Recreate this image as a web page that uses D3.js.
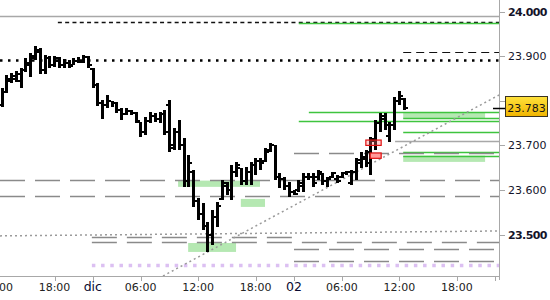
<!DOCTYPE html>
<html>
<head>
<meta charset="utf-8">
<script src="https://cdn.jsdelivr.net/npm/d3@7"></script>
<style>
  body { margin: 0; background: #fff; }
  svg { display: block; font-family: "DejaVu Sans", Verdana, sans-serif; }
</style>
</head>
<body>
<div id="chart"></div>
<script>
// 30 min bars, index 1 = 12:30 of the first day (trading time only)
let opens = [23.790,23.820,23.845,23.850,23.845,23.870,23.880,23.895,23.910,23.870,
  23.895,23.880,23.890,23.880,23.885,23.880,23.890,23.890,23.898,23.872,
  23.835,23.795,23.790,23.800,23.795,23.780,23.770,23.778,23.772,23.752,
  23.730,23.755,23.765,23.760,23.770,23.790,23.700,23.730,23.700,23.620,
  23.640,23.575,23.545,23.520,23.500,23.540,23.580,23.610,23.600,23.640,
  23.650,23.620,23.640,23.655,23.665,23.665,23.690,23.700,23.630,23.625,
  23.610,23.595,23.600,23.610,23.630,23.628,23.630,23.635,23.620,23.630,
  23.625,23.630,23.638,23.615,23.640,23.660,23.670,23.660,23.715,23.750,
  23.765,23.720,23.745,23.800,23.805];
let highs = [23.829,23.858,23.863,23.867,23.874,23.896,23.907,23.923,23.919,23.903,
  23.901,23.901,23.898,23.894,23.892,23.896,23.898,23.903,23.901,23.874,
  23.840,23.802,23.813,23.800,23.798,23.784,23.784,23.780,23.775,23.753,
  23.764,23.775,23.773,23.775,23.780,23.802,23.739,23.757,23.717,23.679,
  23.645,23.582,23.571,23.528,23.555,23.573,23.623,23.618,23.656,23.663,
  23.650,23.652,23.663,23.672,23.672,23.694,23.706,23.701,23.638,23.629,
  23.618,23.600,23.623,23.638,23.638,23.638,23.645,23.638,23.629,23.641,
  23.634,23.641,23.643,23.645,23.672,23.685,23.690,23.719,23.757,23.773,
  23.773,23.753,23.809,23.822,23.807];
let lows = [23.786,23.818,23.840,23.842,23.829,23.865,23.854,23.892,23.860,23.860,
  23.874,23.876,23.874,23.874,23.874,23.880,23.885,23.885,23.874,23.829,
  23.789,23.759,23.784,23.786,23.773,23.757,23.768,23.768,23.750,23.719,
  23.724,23.750,23.753,23.750,23.724,23.685,23.690,23.690,23.607,23.607,
  23.562,23.533,23.511,23.461,23.477,23.517,23.578,23.589,23.578,23.629,
  23.611,23.611,23.611,23.634,23.645,23.663,23.685,23.623,23.605,23.600,
  23.585,23.589,23.596,23.596,23.623,23.607,23.623,23.611,23.607,23.627,
  23.616,23.627,23.634,23.611,23.623,23.650,23.652,23.634,23.690,23.730,
  23.735,23.708,23.735,23.791,23.780];
let closes = [23.820,23.850,23.855,23.860,23.870,23.885,23.900,23.915,23.870,23.895,
  23.880,23.895,23.880,23.885,23.878,23.890,23.888,23.898,23.880,23.835,
  23.795,23.790,23.800,23.795,23.780,23.770,23.778,23.772,23.755,23.730,
  23.755,23.765,23.760,23.770,23.730,23.695,23.730,23.700,23.620,23.660,
  23.575,23.545,23.520,23.500,23.540,23.565,23.615,23.600,23.640,23.655,
  23.620,23.640,23.655,23.665,23.660,23.685,23.700,23.630,23.625,23.610,
  23.595,23.592,23.615,23.630,23.628,23.615,23.640,23.620,23.625,23.638,
  23.620,23.638,23.640,23.640,23.668,23.675,23.685,23.710,23.750,23.760,
  23.745,23.745,23.800,23.810,23.783];

let xTickIdx = [0, 12, 20, 30, 42, 54, 62, 72, 84, 96, 104];
let xTickLabels = ["12:00", "18:00", "dic", "06:00", "12:00", "18:00", "02", "06:00", "12:00", "18:00", ""];
let dayLabels = ["dic", "02"];

let yTicks = [23.5, 23.6, 23.7, 23.8, 23.9, 24.0];
let yTickLabels = ["23.500", "23.600", "23.700", "23.800", "23.900", "24.000"];
let boldTicks = ["23.500", "24.000"];
let lastPrice = 23.783;

// horizontal levels: price, first bar, last bar, kind
let levelPrices = [23.990, 23.977, 23.975, 23.910, 23.892, 23.775, 23.761, 23.754, 23.730,
  23.710, 23.686, 23.684, 23.677, 23.623, 23.587, 23.495, 23.484, 23.468, 23.441, 23.432];
let levelFrom = [0.62, 12.7, 63.0, 84.8, 0.62, 65.1, 84.8, 63.0, 84.8,
  83.1, 84.8, 62.0, 84.8, 0.62, 0.62, 19.8, 19.8, 62.0, 62.0, 19.8];
let levelTo = [104.8, 104.8, 104.8, 104.8, 104.8, 104.8, 104.8, 104.8, 104.8,
  104.8, 104.8, 104.8, 104.8, 104.8, 104.8, 62.0, 104.8, 104.8, 104.8, 104.8];
let levelKinds = ["grey", "blackDash", "green", "blackDash2", "blackDot", "green", "green", "green", "green",
  "grey", "green", "greyDash", "green", "greyDash", "greyDash", "greyDash", "greyDash", "greyDash", "greyDash", "lilac"];

// trend lines: [bar, price] -> [bar, price]
let trendFrom = [[0.62, 23.497], [34.65, 23.407]];
let trendTo = [[104.8, 23.508], [104.8, 23.813]];

// zones: bar from, bar to, top price, bottom price
let zoneX0 = [37.8, 50.9, 39.9, 84.8, 84.8];
let zoneX1 = [54.9, 55.95, 49.9, 101.9, 101.9];
let zoneTop = [23.621, 23.580, 23.481, 23.774, 23.677];
let zoneBot = [23.607, 23.562, 23.461, 23.761, 23.663];

let boxX0 = [77.0, 77.9];
let boxX1 = [80.2, 80.2];
let boxTop = [23.712, 23.683];
let boxBot = [23.700, 23.671];

let W = 550, H = 300, plotR = 499, plotB = 276;

let x = d3.scaleLinear().domain([0.62, 104.8]).range([0, plotR]);
let y = d3.scaleLinear().domain([23.407, 24.0262]).range([plotB, 0]);

let svg = d3.select("#chart").append("svg")
    .attr("width", W)
    .attr("height", H)

let styles = {
  grey: { stroke: "#a8a8a8", width: 1.5, dash: null },
  blackDash: { stroke: "#111", width: 1.5, dash: "4,3.3" },
  blackDash2: { stroke: "#111", width: 1.2, dash: "8,5" },
  blackDot: { stroke: "#000", width: 2.5, dash: "2.5,5.5" },
  green: { stroke: "#3ec43e", width: 1.3, dash: null },
  greyDash: { stroke: "#8a8a8a", width: 1.5, dash: "25,10" },
  lilac: { stroke: "#dcc0f2", width: 3.5, dash: "3.5,5.7" }
};

let plot = svg.append("g");

// zones behind everything
plot.selectAll(".zone")
    .data(zoneX0.map((d, i) => i))
    .enter().append("rect")
    .attr("x", (i) => x(zoneX0[i]))
    .attr("y", (i) => y(zoneTop[i]))
    .attr("width", (i) => x(zoneX1[i]) - x(zoneX0[i]))
    .attr("height", (i) => y(zoneBot[i]) - y(zoneTop[i]))
    .style("fill", "#b5e8b2")

plot.selectAll(".level")
    .data(levelPrices.map((d, i) => i))
    .enter().append("line")
    .attr("x1", (i) => x(levelFrom[i]))
    .attr("x2", (i) => x(levelTo[i]))
    .attr("y1", (i) => Math.round(y(levelPrices[i])) + 0.5)
    .attr("y2", (i) => Math.round(y(levelPrices[i])) + 0.5)
    .style("stroke", (i) => styles[levelKinds[i]].stroke)
    .style("stroke-width", (i) => styles[levelKinds[i]].width)
    .style("stroke-dasharray", (i) => styles[levelKinds[i]].dash)

plot.selectAll(".trend")
    .data(trendFrom.map((d, i) => i))
    .enter().append("line")
    .attr("x1", (i) => x(trendFrom[i][0]))
    .attr("y1", (i) => y(trendFrom[i][1]))
    .attr("x2", (i) => x(trendTo[i][0]))
    .attr("y2", (i) => y(trendTo[i][1]))
    .style("stroke", "#9a9a9a")
    .style("stroke-width", 1.5)
    .style("stroke-dasharray", "2,3")

// ohlc bars
let bars = plot.selectAll(".bar")
    .data(opens.map((d, i) => i))
    .enter().append("g")
    .attr("transform", (i) => "translate(" + x(i + 1) + ",0)")
    .style("shape-rendering", "crispEdges")

bars.append("rect")
    .attr("x", -1.3)
    .attr("y", (i) => y(highs[i]))
    .attr("width", 3)
    .attr("height", (i) => Math.max(2, y(lows[i]) - y(highs[i])))
    .style("fill", "#000")
bars.append("rect")
    .attr("x", -3.3)
    .attr("y", (i) => y(opens[i]) - 1)
    .attr("width", 2.2)
    .attr("height", 2)
    .style("fill", "#000")
bars.append("rect")
    .attr("x", 1.5)
    .attr("y", (i) => y(closes[i]) - 1)
    .attr("width", 2.2)
    .attr("height", 2)
    .style("fill", "#000")

// red boxes
plot.selectAll(".box")
    .data(boxX0.map((d, i) => i))
    .enter().append("rect")
    .attr("x", (i) => x(boxX0[i]))
    .attr("y", (i) => y(boxTop[i]))
    .attr("width", (i) => x(boxX1[i]) - x(boxX0[i]))
    .attr("height", (i) => y(boxBot[i]) - y(boxTop[i]))
    .style("fill", (i) => i == 0 ? "rgba(255,120,120,0.35)" : "#ff9a9a")
    .style("stroke", "#e01010")
    .style("stroke-width", 1.2)

// axes frame
svg.append("line")
    .attr("x1", plotR + 0.5).attr("x2", plotR + 0.5)
    .attr("y1", 0).attr("y2", plotB + 4)
    .style("stroke", "#a8a8a8")
svg.append("line")
    .attr("x1", 0).attr("x2", plotR + 0.5)
    .attr("y1", plotB + 0.5).attr("y2", plotB + 0.5)
    .style("stroke", "#a8a8a8")

let xAxis = svg.append("g")
xAxis.selectAll(".xt")
    .data(xTickIdx)
    .enter().append("line")
    .attr("x1", (d) => Math.round(x(d)) + 0.5)
    .attr("x2", (d) => Math.round(x(d)) + 0.5)
    .attr("y1", plotB)
    .attr("y2", plotB + 5)
    .style("stroke", "#a8a8a8")
xAxis.selectAll(".xl")
    .data(xTickIdx)
    .enter().append("text")
    .attr("x", (d) => x(d))
    .attr("y", 291)
    .attr("text-anchor", "middle")
    .style("font-size", (d, i) => dayLabels.includes(xTickLabels[i]) ? "12.5px" : "11px")
    .style("fill", (d, i) => dayLabels.includes(xTickLabels[i]) ? "#0a0a30" : "#222")
    .text((d, i) => xTickLabels[i])

let yAxis = svg.append("g")
yAxis.selectAll(".yt")
    .data(yTicks)
    .enter().append("line")
    .attr("x1", plotR)
    .attr("x2", plotR + 6)
    .attr("y1", (d) => Math.round(y(d)) + 0.5)
    .attr("y2", (d) => Math.round(y(d)) + 0.5)
    .style("stroke", "#a8a8a8")
yAxis.selectAll(".yl")
    .data(yTicks)
    .enter().append("text")
    .attr("x", 508)
    .attr("y", (d) => y(d) + 4)
    .style("font-size", "11px")
    .style("font-weight", (d, i) => boldTicks.includes(yTickLabels[i]) ? "bold" : "normal")
    .style("letter-spacing", (d, i) => boldTicks.includes(yTickLabels[i]) ? "-0.6px" : "0")
    .style("fill", "#14142a")
    .text((d, i) => yTickLabels[i])

// last price marker (covers the 23.800 label, as in the source)
let grad = svg.append("defs").append("linearGradient")
    .attr("id", "gold")
    .attr("x1", 0).attr("x2", 0).attr("y1", 0).attr("y2", 1)
grad.append("stop").attr("offset", "0%").attr("stop-color", "#ffe23c")
grad.append("stop").attr("offset", "100%").attr("stop-color", "#f0b400")

let ly = y(lastPrice);
svg.append("line")
    .attr("x1", plotR - 6).attr("x2", plotR + 6)
    .attr("y1", Math.round(ly) + 0.5).attr("y2", Math.round(ly) + 0.5)
    .style("stroke", "#000")
    .style("stroke-width", 1.5)
svg.append("rect")
    .attr("x", 505.5)
    .attr("y", Math.round(ly) - 11.5)
    .attr("width", 42)
    .attr("height", 20)
    .style("fill", "url(#gold)")
    .style("stroke", "#3a3320")
svg.append("text")
    .attr("x", 526.5)
    .attr("y", ly + 4)
    .attr("text-anchor", "middle")
    .style("font-size", "11px")
    .style("fill", "#141414")
    .text(d3.format(".3f")(lastPrice))
</script>
</body>
</html>
